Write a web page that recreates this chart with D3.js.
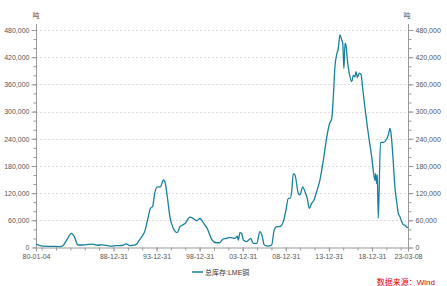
<!DOCTYPE html>
<html>
<head>
<meta charset="utf-8">
<script src="https://cdnjs.cloudflare.com/ajax/libs/d3/7.8.5/d3.min.js"></script>
<style>
  html, body { margin: 0; padding: 0; background: #fff; }
  svg { display: block; font-family: "Liberation Sans", "Noto Sans CJK SC", sans-serif; }
  .tick text { fill: #555; }
</style>
</head>
<body>
<div id="chart"></div>
<script>
// LME copper total stock, tonnes
var dates = [
  '1980-01-04','1980-10-15','1981-11-15','1982-10-15','1983-02-15','1983-08-15',
  '1984-02-15','1984-06-15','1984-11-15','1985-09-15','1986-08-15','1987-02-15',
  '1987-09-15','1988-08-15','1989-04-15','1990-02-15','1990-06-15','1990-12-01',
  '1991-05-15','1991-09-15','1991-12-15','1992-04-15','1992-08-15','1993-01-15',
  '1993-04-15','1993-07-15','1993-10-15','1994-02-01','1994-06-15','1994-10-15',
  '1994-12-20','1995-04-01','1995-07-20','1995-12-10','1996-05-25','1996-09-20',
  '1997-04-20','1997-11-15','1998-04-05','1998-08-25','1999-01-15','1999-07-05',
  '1999-11-20','2000-05-25','2000-11-25','2001-04-10','2001-10-01','2002-02-20',
  '2002-07-10','2003-02-05','2003-05-15','2003-06-28','2003-09-05','2003-11-15',
  '2004-01-25','2004-06-15','2004-12-05','2005-03-25','2005-08-15','2006-01-01',
  '2006-04-10','2006-07-01','2006-12-20','2007-05-10','2007-08-28','2007-12-10',
  '2008-03-28','2008-07-10','2008-10-15','2009-01-08','2009-04-15','2009-06-28',
  '2009-09-05','2009-11-15','2010-01-25','2010-06-15','2010-08-25','2010-12-15',
  '2011-03-25','2011-06-28','2011-09-25','2012-01-01','2012-04-10','2012-07-30',
  '2012-12-20','2013-05-08','2013-09-28','2014-01-20','2014-05-01','2014-07-05',
  '2014-09-15','2014-11-28','2015-02-02','2015-04-15','2015-06-28','2015-08-08',
  '2015-09-01','2015-10-01','2015-11-15','2016-01-01','2016-02-20','2016-05-15',
  '2016-08-25','2016-11-01','2017-01-10','2017-02-25','2017-04-20','2017-07-10',
  '2017-09-25','2017-12-01','2018-03-10','2018-06-15','2018-09-10','2018-12-20',
  '2019-02-25','2019-05-08','2019-06-06','2019-07-20','2019-08-15','2019-09-25',
  '2019-12-28','2020-04-22','2020-09-12','2020-11-20','2021-02-02','2021-03-18',
  '2021-06-20','2021-09-01','2021-11-15','2022-01-20','2022-04-01','2022-06-15',
  '2022-08-22','2022-10-30','2023-01-08','2023-03-08'
];
var stocks = [
  7500, 3000, 2500, 2000, 4000, 18000,
  31000, 24000, 5500, 6000, 7500, 5000,
  6000, 3000, 4000, 5000, 8000, 4000,
  5000, 7500, 15000, 24000, 35000, 68000,
  86500, 90000, 120000, 134000, 134000, 149000,
  145000, 112000, 68000, 42000, 33000, 46000,
  53000, 67000, 64000, 59000, 64000, 52000,
  42000, 18000, 10500, 10500, 19000, 20000,
  22500, 20000, 25000, 16500, 33000, 31000,
  16500, 13000, 20000, 9000, 9000, 35000,
  24000, 5500, 3000, 5500, 38500, 46000,
  46000, 49500, 62000, 83000, 108500, 108500,
  123000, 163000, 160000, 119500, 116000, 134000,
  123000, 108500, 86500, 97500, 105000, 123000,
  150000, 192000, 242000, 272000, 285000, 330000,
  400000, 426000, 439000, 469000, 458000, 452000,
  428000, 395000, 451000, 445000, 415000, 384000,
  366000, 380000, 377000, 388000, 375000, 385000,
  382000, 352000, 308000, 268000, 236000, 200000,
  170000, 148000, 163000, 141000, 160000, 64500,
  232000, 232000, 239000, 248000, 263000, 252000,
  190000, 132000, 100000, 75500, 68000, 57000,
  50000, 49500, 45000, 44000
];
var xTickLabels = ['1980-01-04','1988-12-31','1993-12-31','1998-12-31','2003-12-31','2008-12-31','2013-12-31','2018-12-31','2023-03-08'];
var yTicks = [0, 60000, 120000, 180000, 240000, 300000, 360000, 420000, 480000];
var unitLabel = '吨';
var seriesName = '总库存:LME铜';
var sourceText = '数据来源：Wind';

var width = 447, height = 286;
var area = { left: 36, right: 408, top: 30, bottom: 247.5 };
var lineColor = '#17809f';

var parse = d3.timeParse('%Y-%m-%d');
var fmtDate = d3.timeFormat('%y-%m-%d');
var data = dates.map(function(d, i) { return { x: parse(d), y: stocks[i] }; });
var labelDates = xTickLabels.map(parse);

var svg = d3.select('#chart').append('svg')
  .attr('width', width)
  .attr('height', height);

var x = d3.scaleTime()
  .domain([labelDates[0], labelDates[labelDates.length - 1]])
  .range([area.left, area.right]);

var y = d3.scaleLinear()
  .domain([0, 480000])
  .range([area.bottom, area.top]);

// minor x ticks: thirds of the 5-year spacing between labels
var minorX = [];
var step = (labelDates[2] - labelDates[1]) / 3;
for (var t = +labelDates[1]; t > +labelDates[0] + step * 0.3; t -= step) minorX.push(new Date(t));
for (t = +labelDates[1] + step; t < +labelDates[labelDates.length - 1] - step * 0.3; t += step) minorX.push(new Date(t));

var minorY = d3.range(0, 480001, 20000);

// grid
svg.append('g')
  .attr('class', 'grid')
  .selectAll('line')
  .data(yTicks.slice(1))
  .enter().append('line')
    .attr('x1', area.left)
    .attr('x2', area.right)
    .attr('y1', function(d) { return Math.round(y(d)) + 0.5; })
    .attr('y2', function(d) { return Math.round(y(d)) + 0.5; })
    .attr('stroke', '#dcdcdc')
    .attr('stroke-dasharray', '2,2')
    .attr('stroke-width', 1);

// y axes
function styleAxis(g) {
  g.select('.domain').remove();
  g.selectAll('.tick line').attr('stroke', '#999');
  g.selectAll('.tick text').attr('font-size', '7px');
}

svg.append('g')
  .attr('transform', 'translate(' + (area.left + 0.5) + ',0)')
  .call(d3.axisLeft(y).tickValues(minorY).tickSize(3).tickFormat(''))
  .call(styleAxis);
svg.append('g')
  .attr('transform', 'translate(' + (area.left + 0.5) + ',0)')
  .call(d3.axisLeft(y).tickValues(yTicks).tickSize(5).tickPadding(2).tickFormat(d3.format(',')))
  .call(styleAxis);

svg.append('g')
  .attr('transform', 'translate(' + (area.right + 0.5) + ',0)')
  .call(d3.axisRight(y).tickValues(minorY).tickSize(3).tickFormat(''))
  .call(styleAxis);
svg.append('g')
  .attr('transform', 'translate(' + (area.right + 0.5) + ',0)')
  .call(d3.axisRight(y).tickValues(yTicks).tickSize(5).tickPadding(2).tickFormat(d3.format(',')))
  .call(styleAxis);

// axis lines
[area.left, area.right].forEach(function(px) {
  svg.append('line')
    .attr('x1', px + 0.5).attr('x2', px + 0.5)
    .attr('y1', area.top - 6).attr('y2', area.bottom)
    .attr('stroke', '#999');
});

// x axis
svg.append('g')
  .attr('transform', 'translate(0,' + area.bottom + ')')
  .call(d3.axisBottom(x).tickValues(minorX).tickSize(3).tickFormat(''))
  .call(styleAxis);
svg.append('g')
  .attr('transform', 'translate(0,' + area.bottom + ')')
  .call(d3.axisBottom(x).tickValues(labelDates).tickSize(4).tickPadding(3).tickFormat(fmtDate))
  .call(styleAxis);
svg.append('line')
  .attr('x1', area.left).attr('x2', area.right + 1)
  .attr('y1', area.bottom + 0.5).attr('y2', area.bottom + 0.5)
  .attr('stroke', '#999');

// units
svg.append('text')
  .attr('x', area.left).attr('y', 18)
  .attr('text-anchor', 'middle')
  .attr('font-size', '7px').attr('fill', '#555')
  .text(unitLabel);
svg.append('text')
  .attr('x', area.right - 1).attr('y', 18)
  .attr('text-anchor', 'middle')
  .attr('font-size', '7px').attr('fill', '#555')
  .text(unitLabel);

// series
var lineGen = d3.line()
  .curve(d3.curveMonotoneX)
  .x(function(d) { return x(d.x); })
  .y(function(d) { return y(d.y); });

svg.append('path')
  .datum(data)
  .attr('d', lineGen)
  .attr('fill', 'none')
  .attr('stroke', lineColor)
  .attr('stroke-width', 1.3)
  .attr('stroke-linejoin', 'round');

// legend
var legend = svg.append('g').attr('transform', 'translate(192,272)');
legend.append('line')
  .attr('x1', 0).attr('x2', 11)
  .attr('stroke', lineColor)
  .attr('stroke-width', 1.5);
legend.append('text')
  .attr('x', 13).attr('y', 2.5)
  .attr('font-size', '7px').attr('fill', '#333')
  .text(seriesName);

// source
svg.append('text')
  .attr('x', 435).attr('y', 285)
  .attr('text-anchor', 'end')
  .attr('font-size', '8px').attr('fill', '#e00000')
  .text(sourceText);
</script>
</body>
</html>
